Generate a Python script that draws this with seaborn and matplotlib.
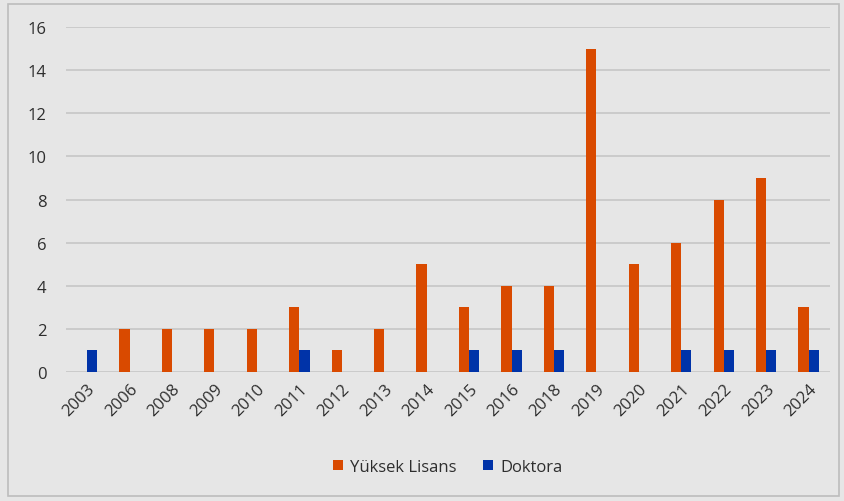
import matplotlib

matplotlib.use("Agg")
import matplotlib.pyplot as plt
import pandas as pd
import seaborn as sns
from matplotlib.patches import Rectangle


YEARS = ["2003", "2006", "2008", "2009", "2010", "2011", "2012", "2013", "2014",
         "2015", "2016", "2018", "2019", "2020", "2021", "2022", "2023", "2024"]
YUKSEK_LISANS = [0, 2, 2, 2, 2, 3, 1, 2, 5, 3, 4, 4, 15, 5, 6, 8, 9, 3]
DOKTORA = [1, 0, 0, 0, 0, 1, 0, 0, 0, 1, 1, 1, 0, 0, 1, 1, 1, 1]
SERIES = ["Yüksek Lisans", "Doktora"]
COLORS = ["#D94A00", "#0033A8"]
BG = "#E6E6E6"
TEXT = "#2E2E2E"

df = pd.DataFrame({
    "year": YEARS * 2,
    "value": YUKSEK_LISANS + DOKTORA,
    "series": [SERIES[0]] * len(YEARS) + [SERIES[1]] * len(YEARS),
})

sns.set_style("white")
plt.rcParams["font.family"] = ["Open Sans", "DejaVu Sans"]

fig = plt.figure(figsize=(8.45, 5.02), dpi=100, facecolor=BG)
ax = fig.add_axes([0.078, 0.257, 0.904, 0.687])
ax.set_facecolor(BG)

sns.barplot(data=df, x="year", y="value", hue="series", hue_order=SERIES,
            palette=COLORS, width=0.48, gap=0, saturation=1, linewidth=0,
            ax=ax, legend=True)

ax.set_ylim(0, 16)
ax.set_yticks(range(0, 17, 2))
ax.set_xlim(-0.5, len(YEARS) - 0.5)
ax.grid(axis="y", color="#C4C4C4", linewidth=1.1)
ax.set_axisbelow(True)
for s in ax.spines.values():
    s.set_visible(False)
ax.tick_params(axis="both", length=0, colors=TEXT, labelsize=12)
ax.tick_params(axis="y", pad=14)
ax.tick_params(axis="x", pad=6)
ax.set_xlabel("")
ax.set_ylabel("")
for lbl in ax.get_xticklabels():
    lbl.set_rotation(45)
    lbl.set_ha("right")
    lbl.set_rotation_mode("anchor")

leg = ax.legend(loc="center", bbox_to_anchor=(0.5, -0.275), ncol=2, frameon=False,
                fontsize=12, handlelength=0.6, handleheight=0.6, columnspacing=1.6,
                handletextpad=0.4)
for t in leg.get_texts():
    t.set_color(TEXT)

fig.patches.append(Rectangle((8 / 845, 5 / 502), 831 / 845, 492 / 502,
                             transform=fig.transFigure, fill=False,
                             edgecolor="#BDBDBD", linewidth=1.2))

fig.savefig("out.png", dpi=100, facecolor=BG)
